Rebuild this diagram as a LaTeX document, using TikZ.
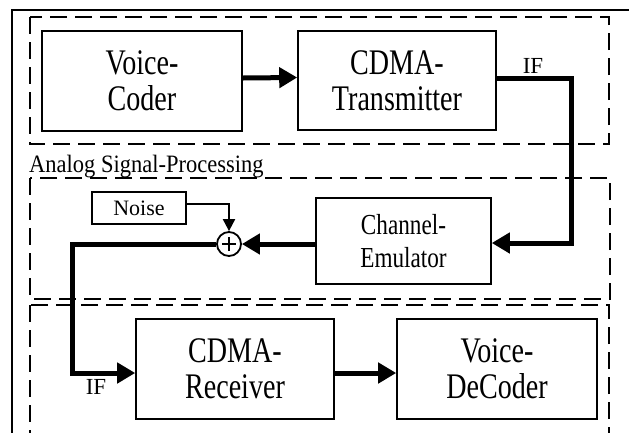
\documentclass[tikz,border=0pt]{standalone}
\usepackage{fontspec}
\setmainfont{Liberation Serif}
\newfontfamily\bigfont[FakeStretch=0.78]{Liberation Serif}
\newfontfamily\midfont[FakeStretch=0.8]{Liberation Serif}
\newfontfamily\anafont[FakeStretch=0.9]{Liberation Serif}
\usetikzlibrary{arrows.meta}
\begin{document}
\begin{tikzpicture}[x=1pt,y=-1pt,
  blockbig/.style={draw,line width=1.6pt,inner sep=0pt,align=center,
    font=\bigfont\fontsize{36}{36}\selectfont},
  blockmid/.style={draw,line width=1.6pt,inner sep=0pt,align=center,
    font=\midfont\fontsize{29}{33}\selectfont},
  grp/.style={line width=2.8pt,dash pattern=on 17pt off 8pt},
  sig/.style={line width=5pt,-{Triangle[length=18pt,width=20pt]}},
  thinsig/.style={line width=2pt,-{Triangle[length=12pt,width=12pt]}},
  lbl/.style={inner sep=0pt,font=\fontsize{23}{23}\selectfont}]
\useasboundingbox (0,0) rectangle (629,432);
\clip (0,0) rectangle (629,432);
\fill[white] (0,0) rectangle (629,432);
% outer frame
\draw[line width=2pt] (12,10) rectangle (645,450);
% group boxes
\draw[grp] (30,17) rectangle (609,144);
\draw[grp] (30,178) rectangle (610,299);
\draw[grp] (30,305) rectangle (609,435);
\node[anchor=base west,inner sep=0pt,font=\anafont\fontsize{25}{25}\selectfont] (ana) at (29,172) {Analog Signal-Processing};
% blocks
\node[blockbig,minimum width=200pt,minimum height=100pt] (vc) at (142,81) {Voice-\\Coder};
\node[blockbig,minimum width=198pt,minimum height=99pt] (tx) at (397,80.5) {CDMA-\\Transmitter};
\node[blockmid,minimum width=175pt,minimum height=86pt] (ce) at (403.5,241) {Channel-\\Emulator};
\node[draw,line width=1.6pt,minimum width=94pt,minimum height=32pt,inner sep=0pt,
  font=\fontsize{22}{22}\selectfont] (noise) at (139,208) {Noise};
\node[draw,circle,line width=1.8pt,minimum size=24pt,inner sep=0pt] (sum) at (229,244) {};
\draw[line width=1.5pt] ([xshift=-7pt]sum.center) -- ([xshift=7pt]sum.center)
  ([yshift=-7pt]sum.center) -- ([yshift=7pt]sum.center);
\node[blockbig,minimum width=198pt,minimum height=100pt] (rx) at (235,369) {CDMA-\\Receiver};
\node[blockbig,minimum width=200pt,minimum height=100pt] (vd) at (497,369) {Voice-\\DeCoder};
% connectors
\draw[sig] ([yshift=3pt]vc.east) -- ([yshift=3pt]tx.west);
\draw[sig,line join=miter] ([yshift=2.5pt]tx.east) -- ++(75,0) |- ([yshift=-2pt]ce.east);
\draw[sig] ([yshift=-3pt]ce.west) -- (sum.east);
\draw[thinsig] ([yshift=4pt]noise.east) -| (sum.north);
\draw[sig,line join=miter] (sum.west) -- (72,244) |- ([yshift=-4pt]rx.west);
\draw[sig] ([yshift=-4pt]rx.east) -- ([yshift=-4pt]vd.west);
% labels
\node[lbl] (if1) at (533,66) {IF};
\node[lbl] (if2) at (96,387) {IF};
\end{tikzpicture}
\end{document}
